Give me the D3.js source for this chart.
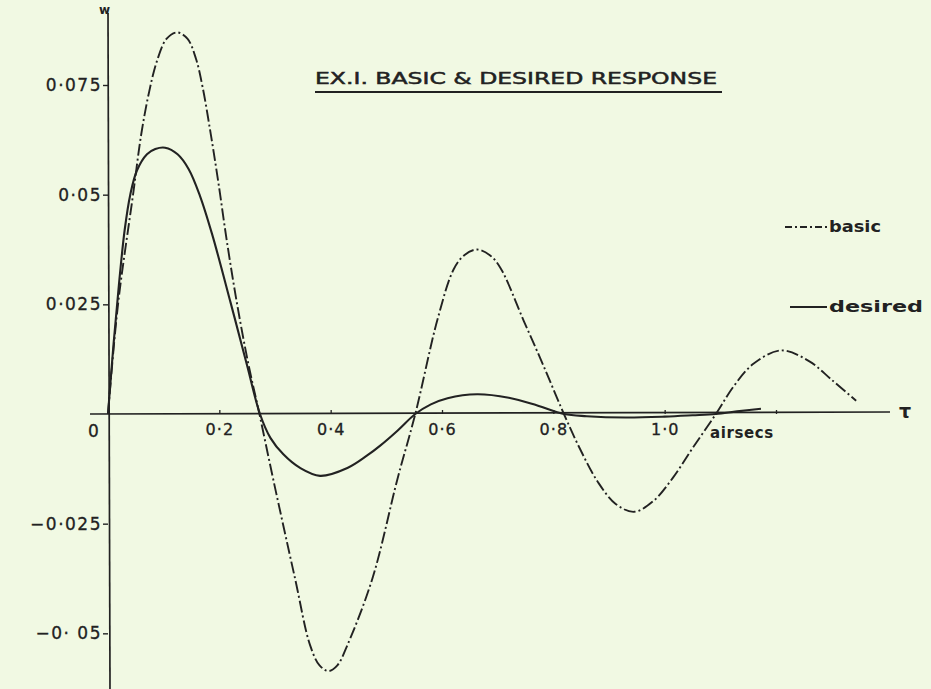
<!DOCTYPE html>
<html>
<head>
<meta charset="utf-8">
<script src="https://cdn.jsdelivr.net/npm/d3@7"></script>
<style>
  html, body { margin: 0; padding: 0; background: #f1f9e3; }
  svg { display: block; }
  text { font-family: "DejaVu Sans", sans-serif; fill: #222; }
</style>
</head>
<body>
<svg id="chart" width="931" height="689"></svg>
<script>
// Response w against time tau (airsecs)
const basicTau = [0, 0.018, 0.045, 0.06, 0.074, 0.088, 0.105, 0.124, 0.143, 0.158, 0.17, 0.185, 0.198, 0.214, 0.232, 0.252, 0.272,
  0.297, 0.336, 0.363, 0.38, 0.396, 0.412, 0.43, 0.475, 0.52, 0.552,
  0.592, 0.621, 0.64, 0.663, 0.686, 0.705, 0.747, 0.783, 0.819,
  0.85, 0.88, 0.912, 0.945, 0.98, 1.015, 1.05, 1.092,
  1.125, 1.16, 1.209, 1.26, 1.3, 1.344];
const basicW = [0, 0.025, 0.05, 0.064, 0.0735, 0.0805, 0.0855, 0.087, 0.0855, 0.081, 0.0745, 0.0635, 0.053, 0.039, 0.025, 0.0115, 0,
  -0.015, -0.0375, -0.0527, -0.0573, -0.0586, -0.0573, -0.0527, -0.0375, -0.0148, 0,
  0.0216, 0.033, 0.0362, 0.0375, 0.0362, 0.0333, 0.0212, 0.0108, 0,
  -0.0085, -0.0155, -0.0205, -0.0223, -0.0198, -0.0145, -0.0078, 0,
  0.0065, 0.0115, 0.0145, 0.012, 0.0078, 0.003];

const desiredTau = [0, 0.01, 0.02, 0.03, 0.04, 0.052, 0.07, 0.085, 0.1026, 0.125, 0.145, 0.165, 0.187, 0.22, 0.25, 0.273,
  0.292, 0.315, 0.345, 0.381, 0.43, 0.465, 0.489, 0.52, 0.552,
  0.58, 0.61, 0.663, 0.72, 0.77, 0.819,
  0.86, 0.93, 1.0, 1.05, 1.092, 1.13, 1.173];
const desiredW = [0, 0.016, 0.03, 0.042, 0.05, 0.0555, 0.0592, 0.0604, 0.0607, 0.0592, 0.0558, 0.0498, 0.041, 0.0255, 0.011, 0,
  -0.0055, -0.0092, -0.0123, -0.0141, -0.0123, -0.0095, -0.0072, -0.0038, 0,
  0.0022, 0.0036, 0.0045, 0.0037, 0.002, 0,
  -0.0005, -0.0008, -0.0006, -0.0003, 0, 0.0006, 0.0012];

const xTicks = [0.2, 0.4, 0.6, 0.8, 1.0, 1.2];
const xTickLabels = ["0·2", "0·4", "0·6", "0·8", "1·0", ""];
const yTicks = [0.075, 0.05, 0.025, -0.025, -0.05];
const yTickLabels = ["0·075", "0·05", "0·025", "−0·025", "−0· 05"];

const titleText = "EX.I.  BASIC & DESIRED RESPONSE";
const seriesNames = ["basic", "desired"];

const svg = d3.select("#chart");
const ink = "#222";

const x = d3.scaleLinear().domain([0, 1.2]).range([108, 776]);
const y = d3.scaleLinear().domain([0, 0.075]).range([414, 85]);

// Axes
const yAxis = d3.axisLeft(y)
  .tickValues(yTicks)
  .tickFormat((d, i) => yTickLabels[i])
  .tickSize(5)
  .tickPadding(1);
const gy = svg.append("g").attr("transform", `translate(${x(0)},0)`).call(yAxis);
gy.select(".domain").remove();
gy.selectAll(".tick line").attr("stroke", ink).attr("stroke-width", 1.4);
gy.selectAll(".tick text")
  .attr("font-size", 17).attr("letter-spacing", 1.5).attr("fill", ink)
  .attr("stroke", ink).attr("stroke-width", 0.3)
  .style("font-family", "'DejaVu Sans', sans-serif");
gy.append("line")
  .attr("x1", 0).attr("x2", 2).attr("y1", 13).attr("y2", 689)
  .attr("stroke", ink).attr("stroke-width", 1.7);

const xAxis = d3.axisBottom(x)
  .tickValues(xTicks)
  .tickFormat((d, i) => xTickLabels[i])
  .tickSize(-4)
  .tickPadding(10);
const gx = svg.append("g").attr("transform", `translate(0,${y(0)})`).call(xAxis);
gx.select(".domain").remove();
gx.selectAll(".tick line").attr("stroke", ink).attr("stroke-width", 1.3);
gx.selectAll(".tick text")
  .attr("font-size", 16).attr("letter-spacing", 1).attr("fill", ink)
  .attr("stroke", ink).attr("stroke-width", 0.3)
  .style("font-family", "'DejaVu Sans', sans-serif");
gx.append("line")
  .attr("x1", 90).attr("x2", 890).attr("y1", 0).attr("y2", -2)
  .attr("stroke", ink).attr("stroke-width", 1.7);

// Axis annotations
svg.append("text").attr("x", 88).attr("y", 437).attr("font-size", 17)
  .attr("stroke", ink).attr("stroke-width", 0.3).text("0");
svg.append("text").attr("x", 710).attr("y", 438).attr("font-size", 15)
  .attr("font-weight", "bold").attr("letter-spacing", 0.6).text("airsecs");
svg.append("text").attr("x", 899).attr("y", 418).attr("font-size", 19)
  .attr("font-weight", "bold").text("τ");
svg.append("text").attr("x", 99).attr("y", 14).attr("font-size", 12)
  .attr("font-weight", "bold").text("w");

// Curves
const line = d3.line()
  .x(d => x(d[0]))
  .y(d => y(d[1]))
  .curve(d3.curveCatmullRom.alpha(0.5));

const basic = basicTau.map((t, i) => [t, basicW[i]]);
const desired = desiredTau.map((t, i) => [t, desiredW[i]]);

svg.append("path").datum(basic)
  .attr("d", line).attr("fill", "none")
  .attr("stroke", ink).attr("stroke-width", 1.9)
  .attr("stroke-dasharray", "12,3,2,3");

svg.append("path").datum(desired)
  .attr("d", line).attr("fill", "none")
  .attr("stroke", ink).attr("stroke-width", 2.1);

// Title with underline
svg.append("text").attr("x", 315).attr("y", 84)
  .attr("font-size", 16.5).attr("textLength", 402).attr("lengthAdjust", "spacingAndGlyphs")
  .attr("stroke", ink).attr("stroke-width", 0.5)
  .text(titleText);
svg.append("line").attr("x1", 315).attr("x2", 722).attr("y1", 92).attr("y2", 92)
  .attr("stroke", ink).attr("stroke-width", 1.8);

// Legend
const legend = [
  { name: seriesNames[0], y: 227, x1: 785, dash: "7,3,2,3", len: 52 },
  { name: seriesNames[1], y: 307, x1: 790, dash: null, len: 94 }
];
legend.forEach(l => {
  svg.append("line").attr("x1", l.x1).attr("x2", 827).attr("y1", l.y).attr("y2", l.y)
    .attr("stroke", ink).attr("stroke-width", 2.2)
    .attr("stroke-dasharray", l.dash);
  svg.append("text").attr("x", 829).attr("y", l.y + 5)
    .attr("font-size", 15).attr("font-weight", "bold")
    .attr("textLength", l.len).attr("lengthAdjust", "spacingAndGlyphs")
    .text(l.name);
});
</script>
</body>
</html>
